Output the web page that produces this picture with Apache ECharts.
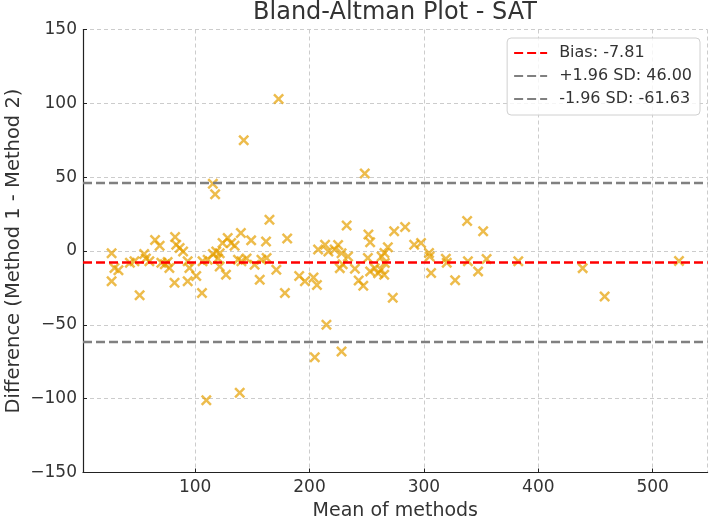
<!DOCTYPE html>
<html>
<head>
<meta charset="utf-8">
<script src="https://cdn.jsdelivr.net/npm/echarts@6/dist/echarts.min.js"></script>
<style>
  html, body { margin: 0; padding: 0; background: #fff; }
  #chart { width: 709px; height: 519px; }
</style>
</head>
<body>
<div id="chart"></div>
<script>
// mean of the two methods for each subject
var meanVals = [
  27, 29.5, 33, 27, 43, 47, 51.5, 55.5, 57, 60,
  65, 69, 70.5, 73.5, 76, 77.5, 82.5, 83.5, 86.5, 89.5,
  82, 93.5, 95, 93.5, 101, 106, 106.5, 111, 115.5, 118.5,
  115.5, 117.5, 121.5, 124, 128.5, 131.5, 127, 134.5, 137.5, 140.5,
  140, 142.5, 109.8, 139, 149, 152, 156.5, 158, 162, 162.5,
  165, 171, 173, 178.5, 180.5, 191, 196, 203.5, 204.6, 206.5,
  207.5, 213.6, 214.8, 216.5, 222, 225, 228, 226.5, 228, 232.5,
  233.7, 239.7, 243, 247, 248.3, 251.5, 253, 251, 253, 257,
  260, 262.5, 265.3, 263, 265.5, 268.5, 272.8, 274, 283.6, 291.5,
  297.5, 304.5, 305, 306.3, 319.2, 327.3, 337.8, 338.5, 347.4, 351.8,
  354.8, 382.5, 438.8, 458, 523, 120, 145, 229, 265.8, 320, 121.5
];
// difference method 1 - method 2
var diffVals = [
  -1.5, -11.5, -13, -20.5, -8, -7, -30, -2, -5, -7,
  7.5, 3.5, -8, -9, -7.5, -11.5, 9.5, 4.3, 2, -0.3,
  -21.5, -7, -11.5, -20.5, -17, -28.5, -7, -6, -2, -0.3,
  45.5, 38.5, -10.5, 5.4, 8.8, 5.4, -16, 3.6, -6, -7,
  12.2, 75, -101, -96, 7.2, -9.3, -19.5, -6, 6.5, -4.8,
  21.2, -12.7, 103, -28.5, 8.4, -17, -20.5, -18, -72, -23,
  1, 4.3, -50, -0.3, 1, 4, -1.5, -11.6, -68, 17.2,
  -3.7, -12, -20, -23.5, 52.5, 11.1, 6, -4.8, -13.8, -11.6,
  -15, -12.7, -16.1, -3.7, -1.4, 2.5, -31.7, 13.3, 16.2, 4.3,
  5.4, -1.4, -3.7, -14.9, -5.3, -19.8, 20.3, -7, -13.8, 13.3,
  -5.4, -7, -11.6, -30.8, -6.8, -5, -5, -9, -8.1, -8, -1.5
];

var bias = -7.81;
var upperLoA = 46.00;
var lowerLoA = -61.63;
var xExtent = [2, 548];

var lineNames = ['Bias: -7.81', '+1.96 SD: 46.00', '-1.96 SD: -61.63'];

var points = meanVals.map(function (m, i) { return [m, diffVals[i]]; });

function hline(v) { return [[xExtent[0], v], [xExtent[1], v]]; }

var crossPath = 'path://M0,1.6 L1.6,0 L5,3.4 L8.4,0 L10,1.6 L6.6,5 L10,8.4 L8.4,10 L5,6.6 L1.6,10 L0,8.4 L3.4,5 Z';
var font = 'DejaVu Sans';
var minusFmt = function (v) { return v < 0 ? '\u2212' + Math.abs(v) : String(v); };

var chart = echarts.init(document.getElementById('chart'));
chart.setOption({
  backgroundColor: '#ffffff',
  animation: false,
  title: {
    text: 'Bland-Altman Plot - SAT',
    left: 395, top: 0, padding: 0,
    textAlign: 'center',
    textStyle: { fontFamily: font, fontSize: 24, fontWeight: 'normal', color: '#333', lineHeight: 26 }
  },
  legend: {
    data: lineNames,
    orient: 'vertical',
    right: 9, top: 38,
    padding: [6, 8, 7, 6],
    itemWidth: 33, itemHeight: 14, itemGap: 5,
    itemStyle: { opacity: 0 },
    borderColor: '#d0d0d0', borderWidth: 1, borderRadius: 4,
    backgroundColor: 'rgba(255,255,255,0.8)',
    textStyle: { fontFamily: font, fontSize: 16, color: '#333', lineHeight: 18, padding: [0, 0, 0, 7] }
  },
  grid: { left: 83, right: 1.4, top: 29.5, bottom: 46.5, containLabel: false, outerBoundsMode: 'none' },
  xAxis: {
    type: 'value',
    min: xExtent[0], max: xExtent[1],
    name: 'Mean of methods',
    nameLocation: 'middle', nameGap: 27,
    nameTextStyle: { fontFamily: font, fontSize: 19, color: '#333' },
    axisLine: { show: true, onZero: false, lineStyle: { color: '#222', width: 1.2 } },
    axisTick: { show: true, inside: true, length: 4, lineStyle: { color: '#222' } },
    axisLabel: { fontFamily: font, fontSize: 17, color: '#333', margin: 7, showMinLabel: false, showMaxLabel: false },
    splitLine: { show: true, lineStyle: { color: '#cccccc', type: [4, 3], width: 1 } }
  },
  yAxis: {
    type: 'value',
    min: -150, max: 150, interval: 50,
    name: 'Difference (Method 1 - Method 2)',
    nameLocation: 'middle', nameGap: 59, nameMoveOverlap: false,
    nameTextStyle: { fontFamily: font, fontSize: 19.5, color: '#333' },
    axisLine: { show: true, onZero: false, lineStyle: { color: '#222', width: 1.2 } },
    axisTick: { show: true, inside: true, length: 4, lineStyle: { color: '#222' } },
    axisLabel: { fontFamily: font, fontSize: 17, color: '#333', margin: 6, formatter: minusFmt },
    splitLine: { show: true, lineStyle: { color: '#cccccc', type: [4, 3], width: 1 } }
  },
  series: [
    {
      type: 'scatter',
      data: points,
      symbol: crossPath,
      symbolSize: 11,
      itemStyle: { color: '#E69F00', opacity: 0.7 },
      z: 2
    },
    {
      name: lineNames[0], type: 'line', data: hline(bias), symbol: 'none',
      lineStyle: { color: '#ff0000', width: 2.5, type: [9, 4] }, itemStyle: { color: '#ff0000' }, z: 3
    },
    {
      name: lineNames[1], type: 'line', data: hline(upperLoA), symbol: 'none',
      lineStyle: { color: '#808080', width: 2.5, type: [9, 4] }, itemStyle: { color: '#808080' }, z: 3
    },
    {
      name: lineNames[2], type: 'line', data: hline(lowerLoA), symbol: 'none',
      lineStyle: { color: '#808080', width: 2.5, type: [9, 4] }, itemStyle: { color: '#808080' }, z: 3
    }
  ]
});
</script>
</body>
</html>
